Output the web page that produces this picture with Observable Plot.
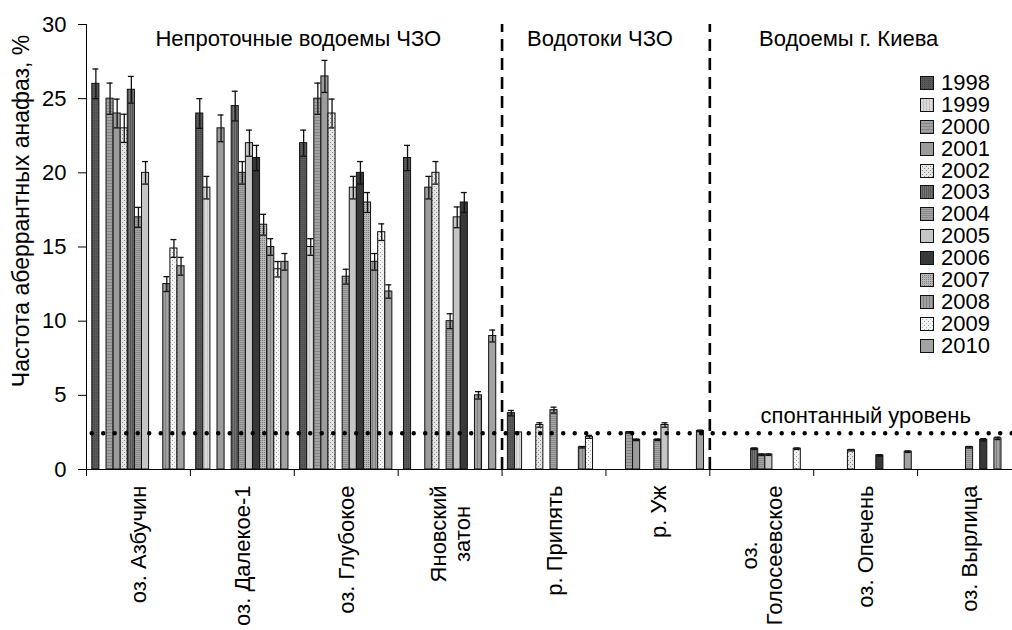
<!DOCTYPE html>
<html><head><meta charset="utf-8">
<script src="https://cdn.jsdelivr.net/npm/d3@7"></script>
<script src="https://cdn.jsdelivr.net/npm/@observablehq/plot@0.6"></script>
<style>
html,body{margin:0;padding:0;background:#fff;overflow:hidden}
#wrap{position:relative;width:1012px;height:630px;font-family:"Liberation Sans",Arial,sans-serif}
#legend{position:absolute;left:920px;top:72px;font-size:22px;color:#000}
.row{display:flex;align-items:center;height:21.9px;line-height:21.9px}
.row svg{margin-right:7px;flex:none}
.row span{display:block;height:21.9px;line-height:21.9px;overflow:visible}
</style></head><body>
<svg width="0" height="0" style="position:absolute"><defs>
<pattern id="p1998" width="2" height="2" patternUnits="userSpaceOnUse"><rect width="2" height="2" fill="#5a5a5a"/><rect width="1" height="1" fill="#454545"/></pattern>
<pattern id="p1999" width="3" height="3" patternUnits="userSpaceOnUse"><rect width="3" height="3" fill="#dadada"/><rect width="1" height="3" fill="#c2c2c2"/></pattern>
<pattern id="p2000" width="3" height="3" patternUnits="userSpaceOnUse"><rect width="3" height="3" fill="#a2a2a2"/><rect width="3" height="1" fill="#858585"/></pattern>
<pattern id="p2001" width="3" height="3" patternUnits="userSpaceOnUse"><rect width="3" height="3" fill="#9c9c9c"/></pattern>
<pattern id="p2002" width="4" height="4" patternUnits="userSpaceOnUse"><rect width="4" height="4" fill="#e6e6e6"/><rect width="1" height="1" fill="#888"/><rect x="2" y="2" width="1" height="1" fill="#888"/></pattern>
<pattern id="p2003" width="2" height="2" patternUnits="userSpaceOnUse"><rect width="2" height="2" fill="#767676"/><rect width="1" height="2" fill="#555"/></pattern>
<pattern id="p2004" width="2" height="2" patternUnits="userSpaceOnUse"><rect width="2" height="2" fill="#a6a6a6"/><rect width="2" height="1" fill="#8a8a8a"/></pattern>
<pattern id="p2005" width="3" height="3" patternUnits="userSpaceOnUse"><rect width="3" height="3" fill="#c6c6c6"/></pattern>
<pattern id="p2006" width="3" height="3" patternUnits="userSpaceOnUse"><rect width="3" height="3" fill="#383838"/></pattern>
<pattern id="p2007" width="2" height="2" patternUnits="userSpaceOnUse"><rect width="2" height="2" fill="#b8b8b8"/><rect width="1" height="1" fill="#7c7c7c"/></pattern>
<pattern id="p2008" width="3" height="3" patternUnits="userSpaceOnUse"><rect width="3" height="3" fill="#a2a2a2"/><rect width="1" height="3" fill="#7e7e7e"/></pattern>
<pattern id="p2009" width="4" height="4" patternUnits="userSpaceOnUse"><rect width="4" height="4" fill="#f4f4f4"/><rect width="1" height="1" fill="#999"/><rect x="2" y="2" width="1" height="1" fill="#bbb"/></pattern>
<pattern id="p2010" width="3" height="3" patternUnits="userSpaceOnUse"><rect width="3" height="3" fill="#a3a3a3"/></pattern>
</defs></svg>
<div id="wrap"><div id="legend"></div></div>
<script>
// ---- data ----
const categories = ["оз. Азбучин", "оз. Далекое-1", "оз. Глубокое", "Яновский\nзатон", "р. Припять", "р. Уж", "оз.\nГолосеевское", "оз. Опечень", "оз. Вырлица"];
const years = [1998, 1999, 2000, 2001, 2002, 2003, 2004, 2005, 2006, 2007, 2008, 2009, 2010];
// values per site, one entry per year (null = no data)
const azbuchin      = [26,   null, 25,   24,   23,   25.6, 17,   20,   null, null, 12.5, 14.9, 13.7];
const dalekoe       = [24,   19,   null, 23,   null, 24.5, 20,   22,   21,   16.5, 15,   13.5, 14];
const glubokoe      = [22,   15,   25,   26.5, 24,   null, 13,   19,   20,   18,   14,   16,   12];
const yanovsky      = [21,   null, null, 19,   20,   null, 10,   17,   18,   null, 5,    null, 9];
const pripyat       = [3.8,  2.5,  null, null, 3.0,  null, 4.0,  null, null, null, 1.5,  2.2,  null];
const uzh           = [null, null, 2.5,  2.0,  null, null, 2.0,  3.0,  null, null, null, null, 2.6];
const goloseevskoe  = [null, null, null, null, null, 1.4,  1.0,  1.0,  null, null, null, 1.4,  null];
const opechen       = [null, null, null, null, 1.3,  null, null, null, 0.95, null, null, null, 1.2];
const vyrlitsa      = [null, null, null, null, null, null, 1.5,  null, 2.0,  null, 2.1,  null, null];
// error half-widths
const azbuchinErr     = [1.0, 0, 1.05, 0.97, 0.95, 0.9, 0.67, 0.76, 0, 0, 0.5, 0.6, 0.6];
const dalekoeErr      = [1.0, 0.76, 0, 0.9, 0, 1.0, 0.76, 0.88, 0.85, 0.7, 0.56, 0.52, 0.56];
const glubokoeErr     = [0.88, 0.56, 1.05, 1.08, 0.97, 0, 0.5, 0.76, 0.76, 0.67, 0.56, 0.56, 0.45];
const yanovskyErr     = [0.85, 0, 0, 0.76, 0.76, 0, 0.5, 0.7, 0.67, 0, 0.25, 0, 0.4];
const pripyatErr      = [0.18, 0, 0, 0, 0.15, 0, 0.2, 0, 0, 0, 0.05, 0.1, 0];
const uzhErr          = [0, 0, 0.05, 0.05, 0, 0, 0.05, 0.15, 0, 0, 0, 0, 0.05];
const goloseevskoeErr = [0, 0, 0, 0, 0, 0.05, 0.05, 0.05, 0, 0, 0, 0.05, 0];
const opechenErr      = [0, 0, 0, 0, 0.05, 0, 0, 0, 0.05, 0, 0, 0, 0.05];
const vyrlitsaErr     = [0, 0, 0, 0, 0, 0, 0.05, 0, 0.08, 0, 0.08, 0, 0];
const spontaneous = 2.45;
const groupTitles = ["Непроточные водоемы ЧЗО", "Водотоки ЧЗО", "Водоемы г. Киева"];
const groupBounds = [[0, 4], [4, 6], [6, 9]];
const yLabel = "Частота аберрантных анафаз, %";
const levelLabel = "спонтанный уровень";

const siteValues = [azbuchin, dalekoe, glubokoe, yanovsky, pripyat, uzh, goloseevskoe, opechen, vyrlitsa];
const siteErrors = [azbuchinErr, dalekoeErr, glubokoeErr, yanovskyErr, pripyatErr, uzhErr, goloseevskoeErr, opechenErr, vyrlitsaErr];

// ---- layout of grouped bars (in category units) ----
const padOuter = 0.82;                       // in slots
const slot = 1 / (years.length + 2 * padOuter);
const rows = [];
siteValues.forEach((vals, ci) => vals.forEach((v, yi) => {
  if (v == null) return;
  const x1 = ci + (padOuter + yi) * slot;
  rows.push({ci, year: years[yi], value: v, err: siteErrors[ci][yi], x1, x2: x1 + slot, xc: x1 + slot / 2});
}));
const errRows = rows.filter(d => d.err > 0);

const font = "'Liberation Sans', Arial, sans-serif";
const ctx = document.createElement("canvas").getContext("2d");
ctx.font = "22px " + font;
const maxLineWidth = s => Math.max(...s.split("\n").map(l => ctx.measureText(l).width));

const labelMarks = categories.map((c, i) => Plot.text([c], {
  x: () => i + 0.5, frameAnchor: "bottom", text: d => d, rotate: -90,
  textAnchor: "middle", lineAnchor: "middle", lineHeight: 1.1,
  dy: 16 + maxLineWidth(c) / 2, fontSize: 22, fill: "#000"
}));

const chart = Plot.plot({
  width: 1012, height: 630,
  marginLeft: 86, marginRight: 0, marginTop: 24, marginBottom: 161,
  style: {fontFamily: font, fontSize: "22px", color: "#000", background: "white", overflow: "visible"},
  x: {domain: [0, 9], range: [86, 1021], ticks: d3.range(0, 10), tickSize: 7, tickFormat: () => "", label: null, line: true},
  y: {domain: [0, 30], ticks: d3.range(0, 31, 5), tickSize: 8, tickPadding: 12, label: null, line: true},
  color: {type: "ordinal", domain: years, range: years.map(y => `url(#p${y})`)},
  marks: [
    Plot.rectY(rows, {x1: "x1", x2: "x2", y: "value", fill: "year", stroke: "#111", strokeWidth: 1}),
    Plot.ruleX(errRows, {x: "xc", y1: d => d.value - d.err, y2: d => d.value + d.err, stroke: "#111", strokeWidth: 1.3}),
    Plot.ruleY(errRows, {y: d => d.value + d.err, x1: d => d.xc - slot * 0.42, x2: d => d.xc + slot * 0.42, stroke: "#111", strokeWidth: 1.3}),
    Plot.ruleY(errRows, {y: d => d.value - d.err, x1: d => d.xc - slot * 0.42, x2: d => d.xc + slot * 0.42, stroke: "#111", strokeWidth: 1.3}),
    Plot.ruleY([spontaneous], {stroke: "#000", strokeWidth: 4.5, strokeLinecap: "round", strokeDasharray: "0,11.5", strokeDashoffset: -5.7}),
    Plot.ruleX([groupBounds[1][0], groupBounds[2][0]], {y1: 0, y2: 30, stroke: "#000", strokeWidth: 2.6, strokeDasharray: "12,7"}),
    Plot.text([groupTitles[0]], {x: () => (groupBounds[0][0] + groupBounds[0][1]) / 2, frameAnchor: "top", dy: 21, dx: 4, lineAnchor: "bottom", fontSize: 22, fill: "#000"}),
    Plot.text([groupTitles[1]], {x: () => (groupBounds[1][0] + groupBounds[1][1]) / 2, frameAnchor: "top", dy: 21, dx: -6, lineAnchor: "bottom", fontSize: 22, fill: "#000"}),
    Plot.text([groupTitles[2]], {x: () => (groupBounds[2][0] + groupBounds[2][1]) / 2, frameAnchor: "top", dy: 21, dx: -17, lineAnchor: "bottom", fontSize: 22, fill: "#000"}),
    Plot.text([levelLabel], {x: () => 7.5, y: () => spontaneous, dy: -10, lineAnchor: "bottom", fontSize: 22, fill: "#000"}),
    Plot.text([yLabel], {frameAnchor: "left", rotate: -90, dx: -58, dy: -36, textAnchor: "middle", lineAnchor: "bottom", fontSize: 23, fill: "#000"}),
    ...labelMarks
  ]
});
document.getElementById("wrap").prepend(chart);

// ---- legend ----
const legend = d3.select("#legend");
years.forEach(y => {
  const row = legend.append("div").attr("class", "row");
  const s = row.append("svg").attr("width", 14).attr("height", 14);
  s.append("rect").attr("x", 0.5).attr("y", 0.5).attr("width", 13).attr("height", 13)
    .attr("fill", `url(#p${y})`).attr("stroke", "#111").attr("stroke-width", 1);
  row.append("span").text(y);
});
</script>
</body></html>
